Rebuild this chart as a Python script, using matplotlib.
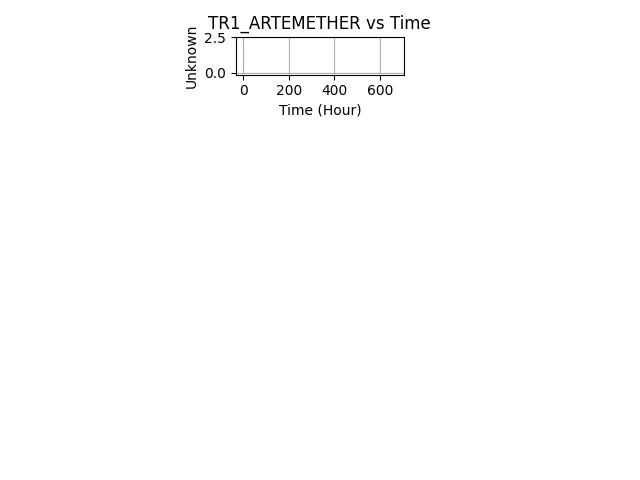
import numpy as np
import matplotlib
matplotlib.use("Agg")
import matplotlib.pyplot as plt

# tiempos de muestreo (horas) y concentraciones, apenas visibles en la figura
tiempos = [0, 1, 2, 4, 6, 8, 12, 24, 48, 72, 168, 336, 672]
concentracion = [0.0, 2.38, 1.6, 0.9, 0.5, 0.3, 0.12, 0.04, 0.01, 0.0, 0.0, 0.0, 0.0]

fig = plt.figure(figsize=(6.4, 4.8), dpi=100)
ax = fig.add_axes([0.3683, 0.8444, 0.2630, 0.0775])

ax.plot(tiempos, concentracion, color="C0", alpha=0.04, linewidth=0.8)

ax.set_title("TR1_ARTEMETHER vs Time")
ax.set_xlabel("Time (Hour)")
ax.set_ylabel("Unknown")
ax.set_xticks([0, 200, 400, 600])
ax.set_yticks([0.0, 2.5])
ax.grid(True)

fig.savefig("out.png")
